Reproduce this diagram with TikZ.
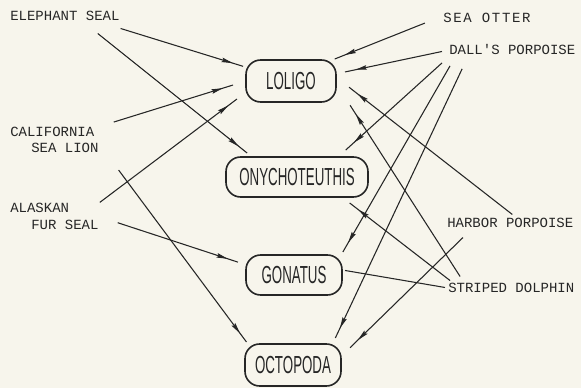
\documentclass[tikz,border=0pt]{standalone}
\usepackage{fontspec}
\usepackage{xcolor}
\usetikzlibrary{positioning, arrows.meta, decorations.markings}

\newfontfamily\squidfont[FakeStretch=0.54]{Liberation Sans}
\newfontfamily\labelfont[Ligatures=TeXOff]{Liberation Mono}
\newfontfamily\widelabelfont[Ligatures=TeXOff, LetterSpace=12]{Liberation Mono}

\definecolor{paper}{RGB}{247,245,236}
\definecolor{ink}{RGB}{38,38,38}

\begin{document}
\begin{tikzpicture}[
    x=0.75pt, y=0.75pt,
    squid/.style={
        draw=ink,
        rounded corners=11pt,
        line width=1.2pt,
        inner sep=0pt,
        outer sep=0pt,
        text=ink,
        font=\squidfont\fontsize{18.5}{18.5}\selectfont
    },
    predator/.style={
        anchor=west,
        inner sep=0pt,
        text=ink,
        font=\labelfont\fontsize{10.5}{12.4}\selectfont
    },
    link/.style={
        ink,
        line width=0.8pt
    },
    arrow/.style 2 args={
        link,
        shorten <=#1,
        shorten >=#2,
        postaction={decorate},
        decoration={markings,
            mark=at position -#2-8pt with {\arrow{Stealth[length=8.5pt,width=3.4pt,inset=1.2pt]}}}
    }
]

\useasboundingbox[fill=paper] (0,0) rectangle (581,388);

% Predators (left)
\node (eseal) at (10,372) [predator] {ELEPHANT SEAL};
\node (csl) at (10,248) [predator, align=left] {CALIFORNIA\\\hspace*{1.5em}SEA LION};
\node (afs) at (10,171.5) [predator, align=left] {ALASKAN\\\hspace*{1.5em}FUR SEAL};

% Predators (right)
\node (sotter) at (443,370) [predator, font=\widelabelfont\fontsize{10.5}{12.4}\selectfont] {SEA OTTER};
\node (dall) at (449,338) [predator] {DALL'S PORPOISE};
\node (harbor) at (447,165) [predator] {HARBOR PORPOISE};
\node (striped) at (448,100) [predator] {STRIPED DOLPHIN};

% Squid (middle column, top to bottom)
\node (loligo) at (291,307) [squid, minimum width=67.5pt, minimum height=31.5pt] {LOLIGO};
\node (onych) at (297,211) [squid, minimum width=106.5pt, minimum height=30pt] {ONYCHOTEUTHIS};
\node (gonatus) at (294,113) [squid, minimum width=72pt, minimum height=30pt] {GONATUS};
\node (octopoda) at (293,23) [squid, minimum width=72pt, minimum height=31.5pt] {OCTOPODA};

% Arrows from the left
\draw [arrow={19pt}{2.3pt}] ([xshift=-17.5pt]eseal.south east) -- (loligo.163);
\draw [arrow={15pt}{4.8pt}] ([xshift=-28.2pt]eseal.south east) -- (onych.156);
\draw [arrow={11.8pt}{10.2pt}] (csl.north east) -- (loligo.180);
\draw [arrow={1pt}{8.5pt}] (afs.north east) -- (loligo.194);
\draw [arrow={25pt}{1.9pt}] ([yshift=-2.5pt]csl.east) -- (octopoda.155);
\draw [arrow={15pt}{6.3pt}] (afs.east) -- (gonatus.168);

% Arrows from the right
\draw [arrow={14.6pt}{2pt}] ([yshift=1.6pt]sotter.west) -- (loligo.27);
\draw [arrow={5.4pt}{6.9pt}] (dall.west) -- (loligo.9);
\draw [arrow={8.4pt}{7.8pt}] ([xshift=1pt]dall.south west) -- (onych.26);
\draw [arrow={9.1pt}{2.6pt}] ([xshift=5.3pt]dall.south west) -- (gonatus.23);
\draw [arrow={11.2pt}{5pt}] ([xshift=14.6pt]dall.south west) -- (octopoda.28);
\draw [arrow={4.3pt}{12.4pt}] ([xshift=4.9pt]harbor.north) -- (loligo.5);
\draw [arrow={10.2pt}{9.5pt}] ([xshift=19.3pt]harbor.south west) -- (octopoda.10);
\draw [arrow={5.8pt}{19.5pt}] ([xshift=12.2pt]striped.north west) -- (loligo.-3);
\draw [arrow={3pt}{7.3pt}] ([xshift=3.9pt]striped.north west) -- (onych.-24);
\draw [link, shorten <=2.3pt, shorten >=2.3pt] (striped.west) -- (gonatus.6.5);

\end{tikzpicture}
\end{document}
